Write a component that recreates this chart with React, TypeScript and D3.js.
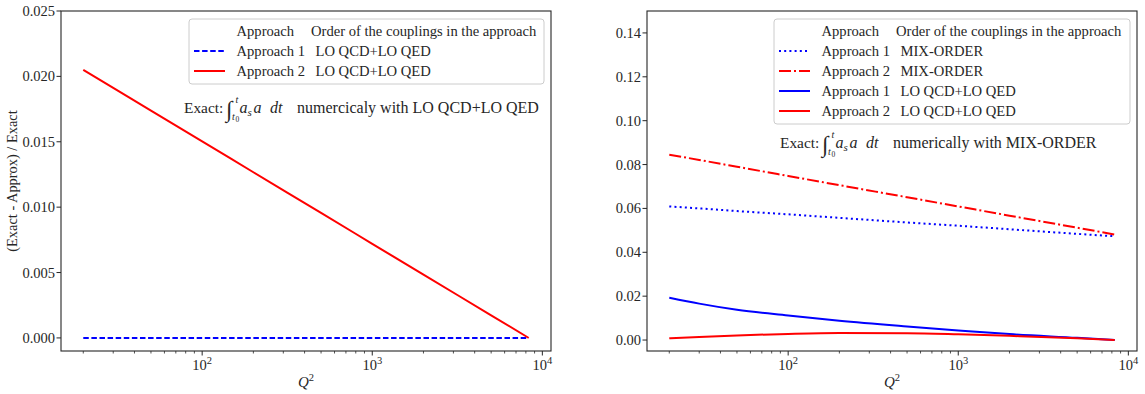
import React from 'react';
import * as d3 from 'd3';

// Q^2 sample points (log x axis), 20 .. M_Z^2
const q2 = [20, 30, 50, 100, 200, 500, 1000, 2000, 5000, 8315];

// left panel: exact integral with LO QCD+LO QED
const leftA1Lo = [0, 0, 0, 0, 0, 0, 0, 0, 0, 0];
const leftA2Lo = [0.0205, 0.01912, 0.01738, 0.01503, 0.01267, 0.00956, 0.0072, 0.00484, 0.00173, 0];

// right panel: exact integral with MIX-ORDER
const rightA1Mix = [0.0609, 0.06, 0.0588, 0.0573, 0.0557, 0.0536, 0.0521, 0.0505, 0.0484, 0.0473];
const rightA2Mix = [0.0845, 0.0821, 0.079, 0.0748, 0.0706, 0.0651, 0.0609, 0.0567, 0.0512, 0.0481];
const rightA1Lo = [0.0193, 0.0166, 0.0138, 0.0112, 0.0088, 0.0062, 0.0044, 0.0027, 0.001, 0];
const rightA2Lo = [0.0008, 0.0014, 0.0021, 0.0028, 0.0032, 0.0031, 0.0026, 0.0019, 0.0008, 0];

const leftYTicks = [0, 0.005, 0.01, 0.015, 0.02, 0.025];
const rightYTicks = [0, 0.02, 0.04, 0.06, 0.08, 0.1, 0.12, 0.14];
const xMajor = [100, 1000, 10000];

const FONT = "'Liberation Serif', 'DejaVu Serif', serif";
const INK = '#262626';
const BLUE = '#0000ff';
const RED = '#ff0000';

type Series = { name: string; order: string; color: string; dash?: string; values: number[] };

const leftSeries: Series[] = [
  { name: 'Approach 1', order: 'LO QCD+LO QED', color: BLUE, dash: '5.5 2.6', values: leftA1Lo },
  { name: 'Approach 2', order: 'LO QCD+LO QED', color: RED, values: leftA2Lo },
];

const rightSeries: Series[] = [
  { name: 'Approach 1', order: 'MIX-ORDER', color: BLUE, dash: '2 3.2', values: rightA1Mix },
  { name: 'Approach 2', order: 'MIX-ORDER', color: RED, dash: '12 3 2 3', values: rightA2Mix },
  { name: 'Approach 1', order: 'LO QCD+LO QED', color: BLUE, values: rightA1Lo },
  { name: 'Approach 2', order: 'LO QCD+LO QED', color: RED, values: rightA2Lo },
];

const TOP = 11;
const BOTTOM = 351;
const W = 490;
const LEG_FS = 14.6;
const TICK_FS = 14.5;

// matplotlib style 5% margin on the log axis
const [qmin, qmax] = d3.extent(q2) as [number, number];
const pad = Math.pow(qmax / qmin, 0.05);

// "Exact: \int_{t0}^{t} a_s a dt <rest>"
function ExactNote({ x, y, rest }: { x: number; y: number; rest: string }) {
  return (
    <g>
      <text x={x} y={y} fontSize={15.4}>Exact:</text>
      <text x={x + 42} y={y + 4} fontSize={23} fontStyle="italic">∫</text>
      <text x={x + 51.5} y={y - 10} fontSize={10} fontStyle="italic">t</text>
      <text x={x + 48} y={y + 7} fontSize={10} fontStyle="italic">t</text>
      <text x={x + 51.5} y={y + 9} fontSize={7.5}>0</text>
      <text x={x + 55.5} y={y} fontSize={16} fontStyle="italic">a</text>
      <text x={x + 63.5} y={y + 3} fontSize={11} fontStyle="italic">s</text>
      <text x={x + 69.5} y={y} fontSize={16} fontStyle="italic">a</text>
      <text x={x + 86} y={y} fontSize={16} fontStyle="italic">dt</text>
      <text x={x + 113} y={y} fontSize={16}>{rest}</text>
    </g>
  );
}

type PanelProps = {
  left: number;
  yDomain: [number, number];
  yTicks: number[];
  yFormat: string;
  series: Series[];
  legendW: number;
  exactX: number;
  exactY: number;
  exactText: string;
  yLabel?: string;
};

function Panel({ left, yDomain, yTicks, yFormat, series, legendW, exactX, exactY, exactText, yLabel }: PanelProps) {
  const x = d3.scaleLog().domain([qmin / pad, qmax * pad]).range([left, left + W]);
  const y = d3.scaleLinear().domain(yDomain).range([BOTTOM, TOP]);
  const fmt = d3.format(yFormat);

  const line = d3
    .line<number>()
    .x((_, i) => x(q2[i]))
    .y((d) => y(d))
    .curve(d3.curveMonotoneX);

  const [d0, d1] = x.domain();
  const minor: number[] = [];
  for (let dec = 10; dec < d1; dec *= 10) {
    for (let k = 2; k < 10; k++) {
      const v = dec * k;
      if (v >= d0 && v <= d1) minor.push(v);
    }
  }

  const lx = left + W - 7 - legendW;
  const ly = TOP + 8;
  const rows = series.length + 1;
  const lh = 12 + rows * 20 - 7;

  return (
    <g style={{ fontFamily: FONT }} fill={INK}>
      {series.map((s, i) => (
        <path
          key={i}
          d={line(s.values) || ''}
          fill="none"
          stroke={s.color}
          strokeWidth={2}
          strokeDasharray={s.dash}
        />
      ))}

      {/* spines */}
      <rect x={left} y={TOP} width={W} height={BOTTOM - TOP} fill="none" stroke={INK} strokeWidth={1.1} />

      {/* y ticks */}
      {yTicks.map((t) => (
        <g key={t}>
          <line x1={left - 4.5} x2={left} y1={y(t)} y2={y(t)} stroke={INK} strokeWidth={1} />
          <text x={left - 6} y={y(t) + 5} fontSize={TICK_FS} textAnchor="end">
            {fmt(t)}
          </text>
        </g>
      ))}

      {/* x ticks */}
      {minor.map((t) => (
        <line key={t} x1={x(t)} x2={x(t)} y1={BOTTOM} y2={BOTTOM + 2.5} stroke={INK} strokeWidth={0.8} />
      ))}
      {xMajor.map((t) => (
        <g key={t}>
          <line x1={x(t)} x2={x(t)} y1={BOTTOM} y2={BOTTOM + 4.5} stroke={INK} strokeWidth={1} />
          <text x={x(t)} y={370} fontSize={TICK_FS} textAnchor="middle">
            10
            <tspan fontSize={10.5} dy={-6}>
              {Math.round(Math.log10(t))}
            </tspan>
          </text>
        </g>
      ))}

      <text x={left + W / 2} y={387} fontSize={15} textAnchor="middle" fontStyle="italic">
        Q
        <tspan fontSize={10.5} dy={-6} fontStyle="normal">
          2
        </tspan>
      </text>

      {yLabel && (
        <text transform={`translate(17,${(TOP + BOTTOM) / 2}) rotate(-90)`} fontSize={14.4} textAnchor="middle">
          {yLabel}
        </text>
      )}

      {/* legend */}
      <rect x={lx} y={ly} width={legendW} height={lh} rx={3} fill="white" fillOpacity={0.8} stroke="#cccccc" strokeWidth={1} />
      <text x={lx + 47.5} y={ly + 12 + 5} fontSize={LEG_FS}>
        Approach
      </text>
      <text x={lx + 122} y={ly + 12 + 5} fontSize={LEG_FS}>
        Order of the couplings in the approach
      </text>
      {series.map((s, i) => {
        const cy = ly + 12 + (i + 1) * 20;
        return (
          <g key={i}>
            <line x1={lx + 5} x2={lx + 36} y1={cy} y2={cy} stroke={s.color} strokeWidth={2} strokeDasharray={s.dash} />
            <text x={lx + 47.5} y={cy + 5} fontSize={LEG_FS}>
              {s.name}
            </text>
            <text x={lx + 126.5} y={cy + 5} fontSize={LEG_FS}>
              {s.order}
            </text>
          </g>
        );
      })}

      <ExactNote x={exactX} y={exactY} rest={exactText} />
    </g>
  );
}

export default function App() {
  return (
    <svg
      width={1145}
      height={394}
      style={{ position: 'absolute', left: 0, top: 0, background: 'white' }}
    >
      <Panel
        left={61}
        yDomain={[-0.001, 0.025]}
        yTicks={leftYTicks}
        yFormat=".3f"
        series={leftSeries}
        legendW={355}
        exactX={184}
        exactY={113}
        exactText="numercicaly with LO QCD+LO QED"
        yLabel="(Exact - Approx) / Exact"
      />
      <Panel
        left={647}
        yDomain={[-0.005, 0.15]}
        yTicks={rightYTicks}
        yFormat=".2f"
        series={rightSeries}
        legendW={356}
        exactX={780}
        exactY={148}
        exactText="numerically with MIX-ORDER"
      />
    </svg>
  );
}
